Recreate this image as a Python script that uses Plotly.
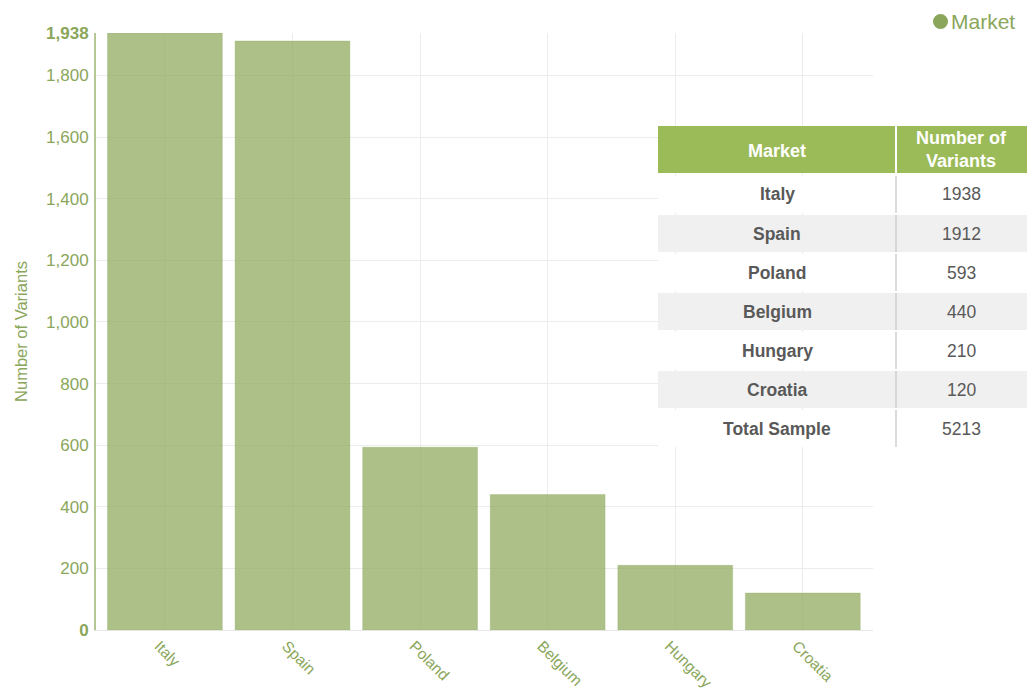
import plotly.graph_objects as go

markets = ["Italy", "Spain", "Poland", "Belgium", "Hungary", "Croatia"]
variants = [1938, 1912, 593, 440, 210, 120]
total_label = "Total Sample"
total_value = 5213
y_tick_vals = [0, 200, 400, 600, 800, 1000, 1200, 1400, 1600, 1800, 1938]
y_tick_text = ["<b>0</b>", "200", "400", "600", "800", "1,000", "1,200", "1,400", "1,600", "1,800", "<b>1,938</b>"]
table_header = ["Market", "Number of<br>Variants"]

W, H = 1027, 690
GREEN = "#8aa65a"
FONT = "Liberation Sans, Arial, sans-serif"

def px(x):
    return x / W

def py(y):
    return 1 - y / H

fig = go.Figure()
fig.add_trace(go.Bar(
    x=markets, y=variants,
    marker=dict(color="rgba(140,168,90,0.72)", line=dict(color="rgba(140,168,90,0.3)", width=1)),
    showlegend=False,
))

fig.update_layout(
    width=W, height=H,
    margin=dict(l=0, r=0, t=0, b=0),
    paper_bgcolor="white", plot_bgcolor="white",
    bargap=0.1,
    font=dict(family=FONT, color=GREEN),
    xaxis=dict(
        domain=[px(96), px(873)],
        range=[-0.54, 5.55],
        showgrid=True, gridcolor="#ececec",
        tickangle=45, tickfont=dict(size=15.5, color=GREEN),
        ticks="", showline=True, linecolor="#e6e6e6", linewidth=1,
        ticklabelshift=-6, ticklabelstandoff=0,
        automargin=False,
    ),
    yaxis=dict(
        domain=[py(630), py(33)],
        range=[0, 1938],
        tickvals=y_tick_vals, ticktext=y_tick_text,
        tickfont=dict(size=17, color=GREEN),
        showgrid=True, gridcolor="#ececec",
        showline=True, linecolor="#b5c894", linewidth=2,
        ticks="", ticklabelstandoff=2,
        zeroline=False,
        automargin=False,
        title=dict(text="Number of Variants", font=dict(size=16.5, color=GREEN), standoff=14),
    ),
)

shapes = []
annotations = []

# legend-like marker + label
shapes.append(dict(type="circle", xref="paper", yref="paper", x0=px(933), x1=px(948), y0=py(29), y1=py(14),
                   fillcolor=GREEN, line=dict(width=0)))
annotations.append(dict(xref="paper", yref="paper", x=px(949), y=py(22), xanchor="left", yanchor="middle",
                        text="Market", showarrow=False, font=dict(size=21, color=GREEN, family=FONT)))

# table
x0, xm, x1 = 658, 896, 1027
hy0, hy1 = 126, 173
shapes.append(dict(type="rect", xref="paper", yref="paper", x0=px(x0), x1=px(xm - 1), y0=py(hy1), y1=py(hy0),
                   fillcolor="#9bbb59", line=dict(width=0), layer="above"))
shapes.append(dict(type="rect", xref="paper", yref="paper", x0=px(xm + 1), x1=px(x1), y0=py(hy1), y1=py(hy0),
                   fillcolor="#9bbb59", line=dict(width=0), layer="above"))
annotations.append(dict(xref="paper", yref="paper", x=px((x0 + xm) / 2), y=py((hy0 + hy1) / 2 + 2),
                        xanchor="center", yanchor="middle",
                        text="<b>" + table_header[0] + "</b>", showarrow=False,
                        font=dict(size=18, color="white", family=FONT)))
annotations.append(dict(xref="paper", yref="paper", x=px((xm + x1) / 2), y=py((hy0 + hy1) / 2),
                        xanchor="center", yanchor="middle",
                        text="<b>" + table_header[1] + "</b>", showarrow=False,
                        font=dict(size=18, color="white", family=FONT)))

rows = [(m, str(v)) for m, v in zip(markets, variants)] + [(total_label, str(total_value))]
row_top = 176
row_h = 39
for i, (m, v) in enumerate(rows):
    ry0 = row_top + i * row_h
    ry1 = ry0 + row_h - 2
    fill = "#f0f0f0" if i % 2 == 1 else "white"
    shapes.append(dict(type="rect", xref="paper", yref="paper", x0=px(x0), x1=px(x1), y0=py(ry1), y1=py(ry0),
                       fillcolor=fill, line=dict(width=0), layer="above"))
    shapes.append(dict(type="line", xref="paper", yref="paper", x0=px(xm), x1=px(xm), y0=py(ry1), y1=py(ry0),
                       line=dict(color="#cfcfcf", width=1.5), layer="above"))
    annotations.append(dict(xref="paper", yref="paper", x=px((x0 + xm) / 2), y=py((ry0 + ry1) / 2),
                            xanchor="center", yanchor="middle",
                            text="<b>" + m + "</b>", showarrow=False,
                            font=dict(size=17.5, color="#595959", family=FONT)))
    annotations.append(dict(xref="paper", yref="paper", x=px((xm + x1) / 2), y=py((ry0 + ry1) / 2),
                            xanchor="center", yanchor="middle",
                            text=v, showarrow=False,
                            font=dict(size=17.5, color="#595959", family=FONT)))

fig.update_layout(shapes=shapes, annotations=annotations)
fig.write_html("out.html")
